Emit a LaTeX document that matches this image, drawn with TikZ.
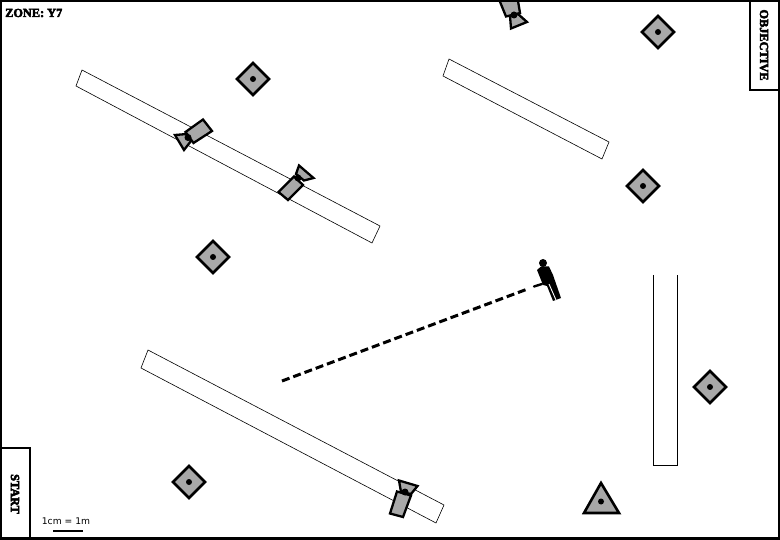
\documentclass[tikz,border=0pt]{standalone}
\usepackage{fontspec}
\newfontfamily\fatfont[FakeBold=4]{Liberation Serif Bold}
\newfontfamily\scalefont{DejaVu Sans}
\definecolor{mark}{gray}{0.66}
\tikzset{
  wallshape/.style={draw=black,line width=0.6pt,fill=white,line join=miter},
  markshape/.style={draw=black,line width=2.6pt,fill=mark,line join=miter},
  camshape/.style={draw=black,line width=2.3pt,fill=mark,line join=miter},
  dotshape/.style={fill=black},
  framebox/.style={draw=black,line width=2pt,fill=white},
  zonelabel/.style={font=\fatfont\fontsize{12.3}{14}\selectfont,text=black,inner sep=0pt},
  scaletext/.style={font=\scalefont\fontsize{9.2}{10}\selectfont,text=black,inner sep=0pt}
}
\begin{document}
\begin{tikzpicture}[x=1pt,y=-1pt]
\useasboundingbox (0,0) rectangle (780,540);
\clip (0,0) rectangle (780,540);
\fill[white] (0,0) rectangle (780,540);
% walls
\draw[wallshape] (82,70) -- (380,226) -- (372,243) -- (76,86) -- cycle;
\draw[wallshape] (449,59) -- (609,142) -- (602,159) -- (443,76) -- cycle;
\draw[wallshape] (148,350) -- (444,505) -- (436,523) -- (141,368) -- cycle;
\draw[wallshape] (653.5,275) -- (653.5,465) -- (677.5,465) -- (677.5,275);
% diamonds
\foreach \cx/\cy in {253/79,658/32,643/186,213/257,710/387,189/482}{
  \draw[markshape] (\cx-16,\cy) -- (\cx,\cy-16) -- (\cx+16,\cy) -- (\cx,\cy+16) -- cycle;
  \fill[dotshape] (\cx,\cy) circle (3pt);
}
% triangle
\draw[markshape] (601,483) -- (619,513) -- (584,513) -- cycle;
\fill[dotshape] (601,501.5) circle (3pt);
% cameras
\draw[camshape] (203,119.5) -- (212,131) -- (193.5,143) -- (185.5,132) -- cycle;
\draw[camshape] (175,135) -- (187,134) -- (191,141) -- (184,150) -- cycle;
\fill[dotshape] (188,137.5) circle (3.5pt);
\draw[camshape] (294,176.5) -- (303,185) -- (288,200) -- (278.5,192) -- cycle;
\draw[camshape] (299,165.5) -- (313.5,178) -- (304,180.5) -- (296,174) -- cycle;
\fill[dotshape] (298,178) circle (3.5pt);
\draw[camshape] (496,-8) -- (516,-11) -- (520,13) -- (506,16.5) -- cycle;
\draw[camshape] (511,28.5) -- (527,22) -- (518,14) -- (510,16) -- cycle;
\fill[dotshape] (514,15) circle (3.5pt);
\draw[camshape] (397,491.5) -- (411,495.5) -- (403,517) -- (390,513.5) -- cycle;
\draw[camshape] (399,480.5) -- (417.5,486) -- (411,494) -- (401,492) -- cycle;
\fill[dotshape] (405,492) circle (3.5pt);
% sight line and person
\coordinate (sightA) at (282,381);
\coordinate (sightB) at (527,289.2);
\draw[black,line width=3pt,dash pattern=on 8pt off 4pt] (sightA) -- (sightB);
\fill[black] (543,263) circle (4pt);
\fill[black] (537,270) -- (541,266.5) -- (549,266.5) -- (553,275) -- (561,298) -- (553,301) -- (547,286) -- (543,285) -- cycle;
\draw[black,line width=2.4pt,line cap=round] (534,286.5) -- (542,284);
\draw[white,line width=0.9pt] (549,284) -- (556,300);
% labels boxes
\draw[framebox] (-3,448) rectangle (30,543);
\node[zonelabel,rotate=-90] (startlabel) at (15,494) {START};
\draw[framebox] (749.5,-3) rectangle (783,90);
\node[zonelabel,rotate=-90] (objectivelabel) at (764,45) {OBJECTIVE};
\node[zonelabel,anchor=west] (zonelabel) at (5,13) {ZONE: Y7};
\node[scaletext] (scalelabel) at (66,521) {1cm = 1m};
\coordinate (scaleA) at (53,531);
\coordinate (scaleB) at (83,531);
\draw[black,line width=1.3pt] (scaleA) -- (scaleB);
% outer frame
\draw[black,line width=2.4pt] (1,1) rectangle (779,538.5);
\end{tikzpicture}
\end{document}
